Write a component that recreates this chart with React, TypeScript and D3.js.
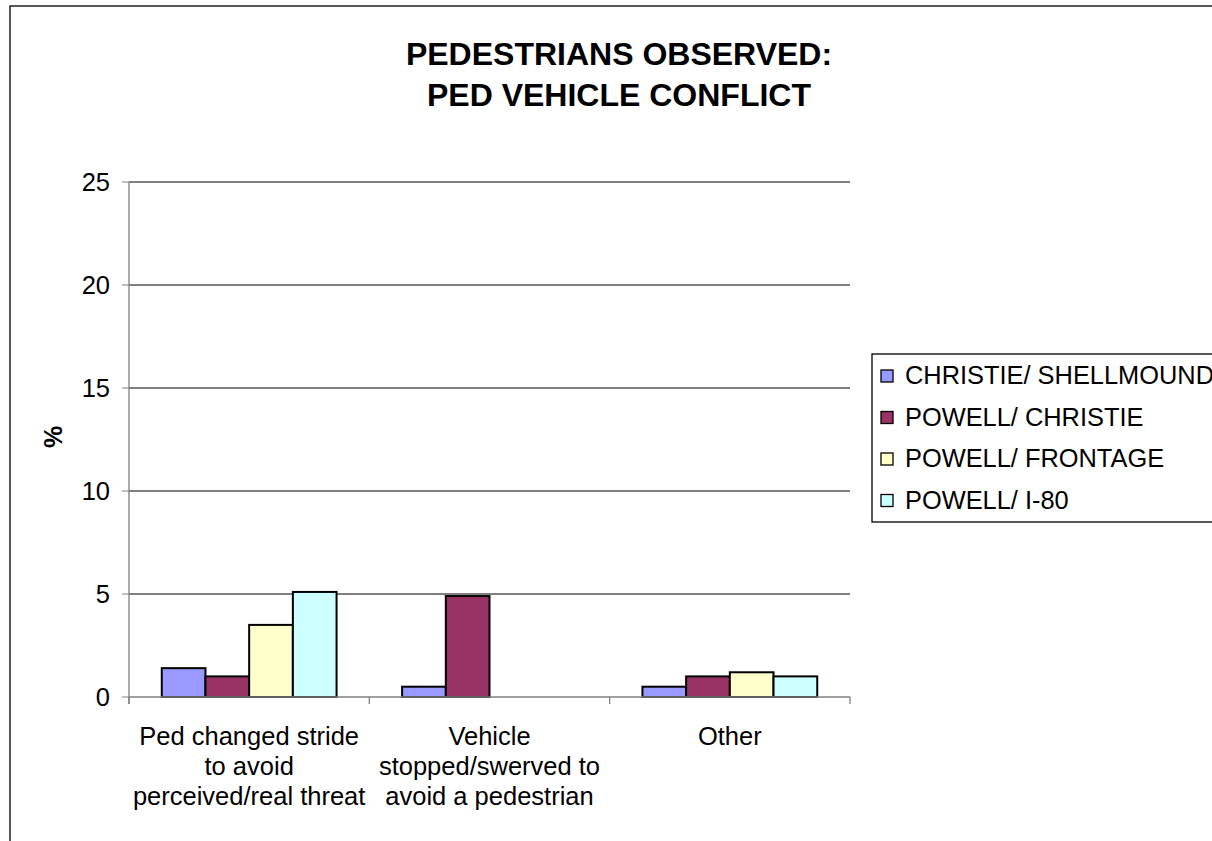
import React from "react";
import * as d3 from "d3";

const categories = [
  ["Ped changed stride", "to avoid", "perceived/real threat"],
  ["Vehicle", "stopped/swerved to", "avoid a pedestrian"],
  ["Other"],
];
const seriesNames = ["CHRISTIE/ SHELLMOUND", "POWELL/ CHRISTIE", "POWELL/ FRONTAGE", "POWELL/ I-80"];
const seriesColors = ["#9999FF", "#993366", "#FFFFCC", "#CCFFFF"];
const christieShellmound = [1.4, 0.5, 0.5];
const powellChristie = [1.0, 4.9, 1.0];
const powellFrontage = [3.5, 0, 1.2];
const powellI80 = [5.1, 0, 1.0];
const seriesValues = [christieShellmound, powellChristie, powellFrontage, powellI80];
const yTicks = [0, 5, 10, 15, 20, 25];
const titleLines = ["PEDESTRIANS OBSERVED:", "PED VEHICLE CONFLICT"];
const yLabel = "%";

export default function App() {
  const W = 1212, H = 841;
  const left = 129, right = 850, top = 182, bottom = 697;
  const font = "Liberation Sans, Arial, sans-serif";
  const x0 = d3.scaleBand<number>().domain(d3.range(categories.length)).range([left, right]).paddingInner(0).paddingOuter(0);
  const bw = x0.bandwidth();
  const barW = bw / 5.5;
  const x1 = d3.scaleBand<number>().domain(d3.range(seriesNames.length)).range([barW * 0.75, bw - barW * 0.75]).padding(0);
  const y = d3.scaleLinear().domain([0, 25]).range([bottom, top]);

  return (
    <svg width={W} height={H} style={{ position: "absolute", left: 0, top: 0, background: "#fff" }} fontFamily={font}>
      <rect x={10} y={6} width={W + 20} height={H + 20} fill="#fff" stroke="#000" strokeWidth={1.3} />
      {titleLines.map((t, i) => (
        <text key={i} x={619} y={65 + i * 41} textAnchor="middle" fontSize={32} fontWeight="bold">{t}</text>
      ))}
      {yTicks.map((t) => (
        <g key={t}>
          {t > 0 && <line x1={left} x2={right} y1={y(t)} y2={y(t)} stroke="#000" strokeWidth={1} />}
          <line x1={left - 7} x2={left} y1={y(t)} y2={y(t)} stroke="#808080" strokeWidth={1} />
          <text x={110} y={y(t) + 9} textAnchor="end" fontSize={25.5}>{t}</text>
        </g>
      ))}
      {seriesValues.map((vals, s) =>
        vals.map((v, c) =>
          v > 0 ? (
            <rect key={`${s}-${c}`} x={(x0(c) as number) + (x1(s) as number)} y={y(v)} width={x1.bandwidth()} height={y(0) - y(v)}
              fill={seriesColors[s]} stroke="#000" strokeWidth={2} />
          ) : null
        )
      )}
      <line x1={left} x2={left} y1={top} y2={bottom + 7} stroke="#808080" strokeWidth={1.3} />
      <line x1={left} x2={right} y1={bottom} y2={bottom} stroke="#808080" strokeWidth={1.3} />
      {d3.range(categories.length + 1).map((i) => {
        const xx = left + i * bw;
        return <line key={i} x1={xx} x2={xx} y1={bottom} y2={bottom + 7} stroke="#808080" strokeWidth={1.3} />;
      })}
      {categories.map((lines, c) => (
        <text key={c} x={(x0(c) as number) + bw / 2} y={745} textAnchor="middle" fontSize={25.5}>
          {lines.map((l, i) => (
            <tspan key={i} x={(x0(c) as number) + bw / 2} y={745 + i * 30}>{l}</tspan>
          ))}
        </text>
      ))}
      <text transform="translate(62,437) rotate(-90)" textAnchor="middle" fontSize={25} fontWeight="bold">{yLabel}</text>
      <rect x={872} y={354} width={400} height={168} fill="#fff" stroke="#000" strokeWidth={1.3} />
      {seriesNames.map((n, i) => (
        <g key={n}>
          <rect x={881} y={370 + i * 41.5} width={12} height={12} fill={seriesColors[i]} stroke="#000" strokeWidth={1.3} />
          <text x={905} y={384 + i * 41.5} fontSize={25.4}>{n}</text>
        </g>
      ))}
    </svg>
  );
}
